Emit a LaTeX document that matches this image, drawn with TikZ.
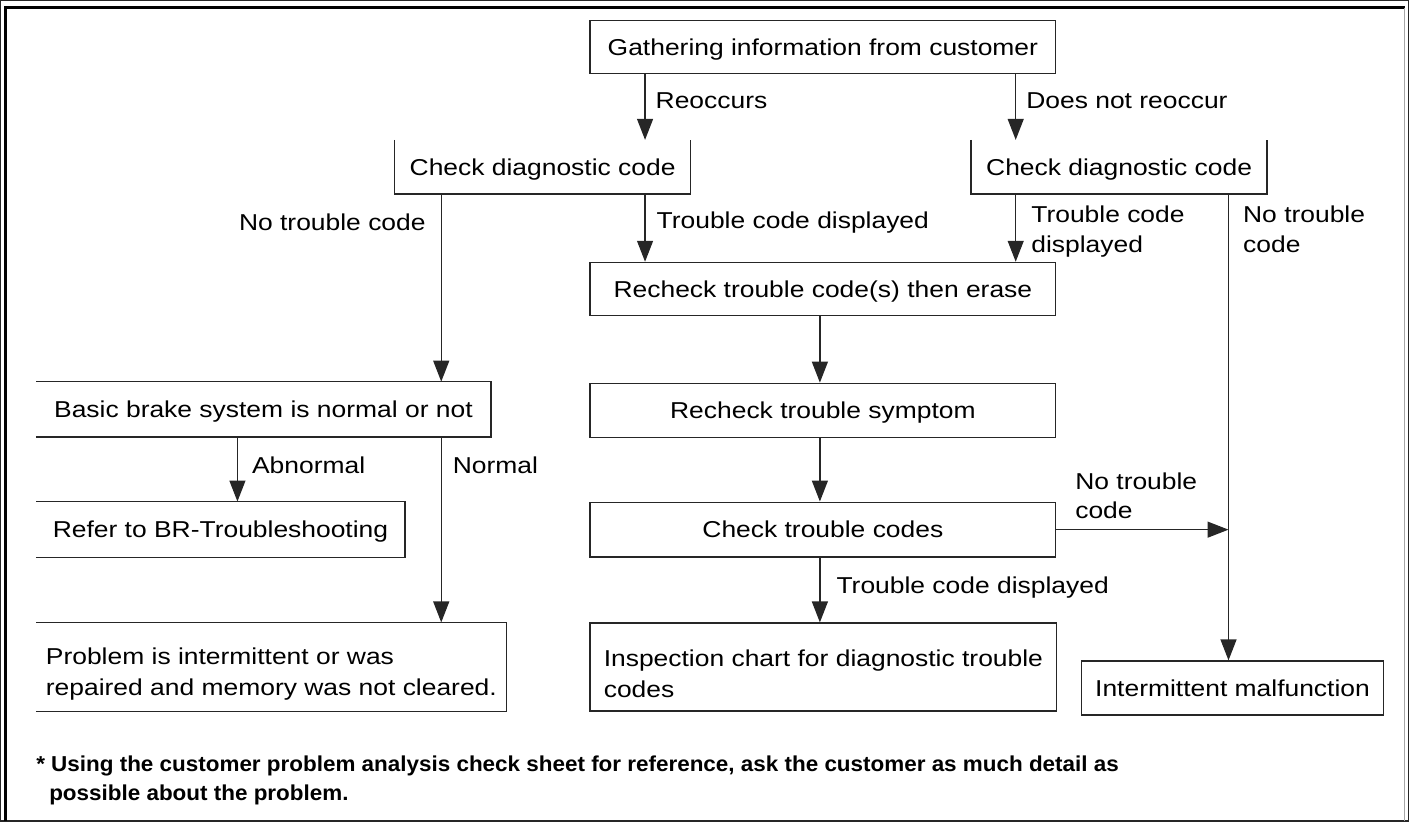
\documentclass[tikz,border=0pt]{standalone}
\usepackage{fontspec}
\setmainfont{Liberation Sans}[FakeStretch=1.15]
\newfontfamily\footfont{Liberation Sans}[FakeStretch=1.04]
\usetikzlibrary{arrows.meta}
\begin{document}
\begin{tikzpicture}[x=0.5pt,y=-0.5pt,
  every path/.style={line width=0.65pt, draw=black!85},
  boxfont/.style={font=\fontsize{11.5}{15.5}\selectfont},
  box/.style={boxfont, rectangle, inner sep=0pt, text height=8.2pt, text depth=0pt},
  fullbox/.style={box, draw},
  twobox/.style={boxfont, rectangle, inner sep=0pt, align=left},
  openbox/.style={box},
  lbl/.style={boxfont, inner sep=0pt},
  lbltwo/.style={font=\fontsize{11.5}{15}\selectfont, inner sep=0pt, align=left},
  foot/.style={font=\footfont\bfseries\fontsize{10.8}{14.5}\selectfont, inner sep=0pt, align=left},
  arr/.style={-{Triangle[length=10.5pt,width=8pt]}}
]
\useasboundingbox (0,0) rectangle (1409,821);
% frame
\draw[line width=1.3pt, draw=black] (5,821) -- (5,7) -- (1406,7);
\draw[line width=0.7pt, draw=black!35] (1405,7) -- (1405,821);

% boxes
\node[fullbox, minimum width=233pt, minimum height=26.5pt] (top) at (823,46.5) {Gathering information from customer};
\node[openbox, minimum width=147.5pt, minimum height=26.5pt] (c1) at (542.5,166.5) {Check diagnostic code};
\node[openbox, minimum width=147.5pt, minimum height=26.5pt] (c2) at (1119.5,166.5) {Check diagnostic code};
\node[fullbox, minimum width=233pt, minimum height=26.5pt] (rec) at (823,288.5) {Recheck trouble code(s) then erase};
\node[fullbox, minimum width=233pt, minimum height=27pt] (sym) at (823,410) {Recheck trouble symptom};
\node[fullbox, minimum width=233pt, minimum height=27.5pt] (ctc) at (823,529.5) {Check trouble codes};
\node[openbox, minimum width=227pt, minimum height=27pt] (basic) at (263,409) {Basic brake system is normal or not};
\node[openbox, minimum width=184pt, minimum height=27.5pt] (refer) at (220,529.5) {Refer to BR-Troubleshooting};
\node[twobox, minimum width=235pt, minimum height=44pt] (problem) at (271,667) {\rule{0pt}{15.2pt}Problem is intermittent or was\\repaired and memory was not cleared.};
\node[twobox, draw, minimum width=233.5pt, minimum height=44pt] (insp) at (823.5,667) {\rule{0pt}{15.2pt}Inspection chart for diagnostic trouble\\codes};
\node[fullbox, minimum width=151pt, minimum height=27pt] (inter) at (1233,688) {Intermittent malfunction};

% open-sided outlines
\draw (c1.north west) -- (c1.south west) -- (c1.south east) -- (c1.north east);
\draw (c2.north west) -- (c2.south west) -- (c2.south east) -- (c2.north east);
\draw (basic.south west) -- (basic.south east) -- (basic.north east) -- (basic.north west);
\draw (refer.south west) -- (refer.south east) -- (refer.north east) -- (refer.north west);
\draw (problem.south west) -- (problem.south east) -- (problem.north east) -- (problem.north west);

% connector columns
\coordinate (xR) at (645,0);
\coordinate (xD) at (1016,0);
\coordinate (xN) at (441,0);
\coordinate (xC) at (820,0);
\coordinate (xA) at (237,0);
\coordinate (xT) at (1229,0);

% connectors
\draw[arr] (top.south -| xR) -- (c1.north -| xR);
\draw[arr] (top.south -| xD) -- (c2.north -| xD);
\draw[arr] (c1.south -| xR) -- (rec.north -| xR);
\draw[arr] (c2.south -| xD) -- (rec.north -| xD);
\draw[arr] (c1.south -| xN) -- (basic.north -| xN);
\draw[arr] (c2.south -| xT) -- (inter.north -| xT);
\draw[arr] (rec.south -| xC) -- (sym.north -| xC);
\draw[arr] (sym.south -| xC) -- (ctc.north -| xC);
\draw[arr] (ctc.south -| xC) -- (insp.north -| xC);
\coordinate (join) at (ctc.east -| xT);
\draw[arr] (ctc.east) -- (join);
\draw[arr] (basic.south -| xA) -- (refer.north -| xA);
\draw[arr] (basic.south -| xN) -- (problem.north -| xN);

% labels
\node[lbl, anchor=base west] (lReo) at (655,108) {Reoccurs};
\node[lbl, anchor=base west] (lDnr) at (1026,108) {Does not reoccur};
\node[lbl, anchor=base east] (lNt1) at (426,230) {No trouble code};
\node[lbl, anchor=base west] (lTd1) at (656,228) {Trouble code displayed};
\node[lbltwo, anchor=north west] (lTd2) at (1031,204.5) {Trouble code\\displayed};
\node[lbltwo, anchor=north west] (lNt2) at (1243,204.5) {No trouble\\code};
\node[lbl, anchor=base west] (lAbn) at (251,473) {Abnormal};
\node[lbl, anchor=base west] (lNor) at (452,473) {Normal};
\node[lbltwo, anchor=north west] (lNt3) at (1075,471.5) {No trouble\\code};
\node[lbl, anchor=base west] (lTd3) at (836,593) {Trouble code displayed};

% footnote
\node[foot, anchor=north west] (note) at (35,755.5) {* Using the customer problem analysis check sheet for reference, ask the customer as much detail as\\\hspace*{6.5pt}possible about the problem.};
\end{tikzpicture}
\end{document}
